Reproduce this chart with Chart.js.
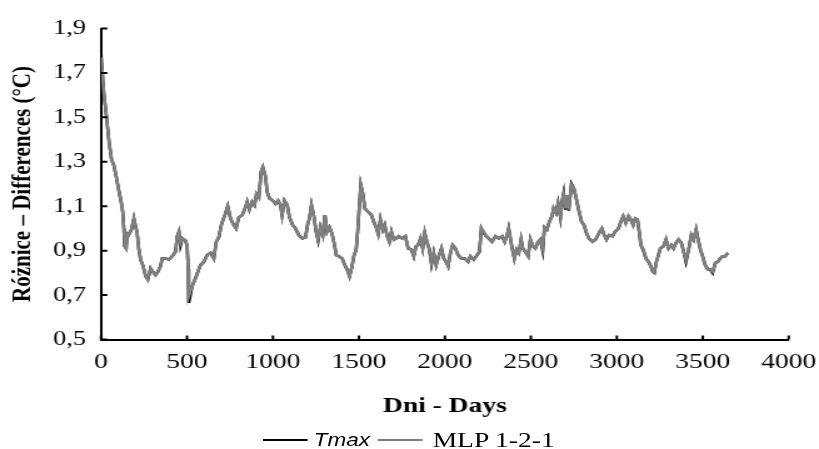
<!DOCTYPE html>
<html lang="pl">
<head>
    <meta charset="UTF-8">
    <title>Różnice – Differences</title>
    <script src="https://cdn.jsdelivr.net/npm/chart.js"></script>
    <style>
        html, body {
            margin: 0;
            padding: 0;
            background: #fff;
            overflow: hidden;
        }

        /* the original figure is stretched sideways, so draw it narrow and widen it */
        #stage {
            position: relative;
            width: 655px;
            height: 449px;
            transform: scaleX(1.2504);
            transform-origin: 0 0;
        }

        #chart {
            position: absolute;
            left: 0;
            top: 0;
        }

        .key-line {
            position: absolute;
            top: 439px;
            width: 36px;
            height: 2px;
        }

        .key-text {
            position: absolute;
            top: 428px;
            line-height: 24px;
            white-space: nowrap;
            color: #000;
        }
    </style>
</head>
<body>
    <div id="stage">
        <canvas id="chart" width="655" height="449"></canvas>
        <div class="key-line" style="left:210px; background:#000;"></div>
        <span class="key-text" style="left:251px; font-family:'Liberation Sans', Arial, sans-serif; font-style:italic; font-size:18px;">Tmax</span>
        <div class="key-line" style="left:302px; background:#808080;"></div>
        <span class="key-text" style="left:346px; font-family:'Liberation Serif', 'Times New Roman', serif; font-size:22px;">MLP 1-2-1</span>
    </div>

    <script>
        const days = [
            0, 16, 32, 45, 61, 74, 88, 102, 117, 126, 133, 137, 146, 152, 160, 177, 191, 201, 210, 220,
            230, 245, 259, 272, 288, 301, 317, 331, 346, 356, 375, 394, 414, 433, 443, 453, 462, 472, 491, 501,
            507, 510, 530, 549, 578, 598, 617, 637, 656, 670, 685, 701, 720, 737, 753, 772, 786, 801, 821, 840,
            850, 863, 879, 893, 904, 918, 931, 941, 956, 966, 980, 999, 1015, 1030, 1044, 1053, 1067, 1083, 1096, 1115,
            1131, 1150, 1170, 1189, 1202, 1212, 1224, 1237, 1251, 1263, 1276, 1290, 1302, 1315, 1329, 1344, 1358, 1368, 1383, 1402,
            1418, 1431, 1445, 1460, 1470, 1484, 1493, 1503, 1511, 1522, 1534, 1553, 1573, 1586, 1600, 1612, 1625, 1639, 1650, 1664,
            1677, 1689, 1703, 1717, 1731, 1751, 1770, 1786, 1805, 1819, 1832, 1844, 1858, 1871, 1883, 1897, 1910, 1922, 1935, 1949,
            1964, 1980, 1993, 2007, 2019, 2032, 2045, 2061, 2077, 2096, 2115, 2135, 2148, 2168, 2187, 2201, 2212, 2226, 2240, 2255,
            2274, 2294, 2313, 2333, 2348, 2362, 2371, 2381, 2391, 2404, 2416, 2430, 2443, 2453, 2468, 2484, 2497, 2511, 2526, 2542,
            2555, 2569, 2579, 2594, 2607, 2623, 2632, 2646, 2658, 2672, 2681, 2691, 2701, 2710, 2720, 2736, 2750, 2764, 2779, 2795,
            2809, 2823, 2838, 2858, 2877, 2897, 2913, 2927, 2940, 2955, 2975, 2990, 3010, 3023, 3037, 3052, 3068, 3081, 3095, 3107,
            3120, 3130, 3140, 3155, 3169, 3184, 3198, 3209, 3218, 3230, 3240, 3253, 3272, 3286, 3301, 3317, 3330, 3344, 3359, 3375,
            3389, 3402, 3418, 3433, 3447, 3461, 3473, 3486, 3499, 3514, 3530, 3543, 3557, 3573, 3588, 3601, 3615, 3630, 3646
        ];

        // MLP 1-2-1 (grey line)
        const mlpValues = [
            1.77, 1.61, 1.50, 1.40, 1.31, 1.285, 1.235, 1.175, 1.12, 1.075, 0.995, 0.92, 0.91, 0.975, 0.97, 0.995, 1.045, 1.01, 0.98, 0.905,
            0.86, 0.83, 0.785, 0.77, 0.82, 0.805, 0.79, 0.805, 0.83, 0.865, 0.865, 0.86, 0.875, 0.895, 0.965, 0.985, 0.935, 0.955, 0.945, 0.92,
            0.815, 0.695, 0.74, 0.775, 0.835, 0.85, 0.88, 0.89, 0.865, 0.94, 0.96, 1.02, 1.06, 1.10, 1.045, 1.015, 1.0, 1.05, 1.06, 1.095,
            1.12, 1.085, 1.12, 1.105, 1.155, 1.14, 1.255, 1.275, 1.235, 1.165, 1.135, 1.125, 1.11, 1.125, 1.105, 1.06, 1.125, 1.105, 1.05, 1.015,
            1.0, 0.97, 0.955, 0.96, 1.02, 1.045, 1.105, 1.06, 0.985, 0.95, 1.005, 0.97, 1.06, 0.985, 1.005, 0.975, 0.925, 0.88, 0.875, 0.865,
            0.835, 0.815, 0.785, 0.83, 0.875, 0.905, 0.99, 1.11, 1.195, 1.16, 1.09, 1.075, 1.06, 1.03, 1.005, 0.975, 1.04, 0.995, 1.015, 0.965,
            0.94, 0.985, 0.95, 0.955, 0.965, 0.955, 0.965, 0.91, 0.905, 0.875, 0.92, 0.925, 0.955, 0.91, 0.98, 0.935, 0.905, 0.845, 0.89, 0.835,
            0.875, 0.91, 0.865, 0.85, 0.83, 0.89, 0.925, 0.91, 0.88, 0.865, 0.865, 0.85, 0.875, 0.86, 0.88, 0.895, 1.0, 0.985, 0.965, 0.955,
            0.94, 0.965, 0.955, 0.965, 0.94, 0.97, 1.0, 0.955, 0.91, 0.865, 0.905, 0.89, 0.95, 0.91, 0.895, 0.875, 0.95, 0.92, 0.91, 0.94,
            0.95, 0.91, 1.005, 0.995, 1.03, 1.055, 1.09, 1.07, 1.11, 1.055, 1.12, 1.155, 1.09, 1.15, 1.085, 1.195, 1.18, 1.135, 1.085, 1.03,
            1.015, 0.98, 0.955, 0.94, 0.95, 0.98, 1.0, 0.97, 0.95, 0.97, 0.965, 0.985, 1.0, 1.03, 1.055, 1.025, 1.055, 1.04, 1.015, 1.045,
            1.04, 0.985, 0.925, 0.905, 0.865, 0.85, 0.83, 0.805, 0.8, 0.85, 0.875, 0.91, 0.92, 0.95, 0.91, 0.925, 0.91, 0.935, 0.95, 0.935,
            0.895, 0.86, 0.905, 0.97, 0.95, 0.995, 0.95, 0.905, 0.875, 0.835, 0.815, 0.815, 0.805, 0.845, 0.85, 0.865, 0.875, 0.875, 0.89
        ];

        // Tmax (black line, mostly hidden under the grey one)
        const tmaxValues = [
            1.78, 1.61, 1.50, 1.40, 1.31, 1.285, 1.235, 1.175, 1.12, 1.075, 0.995, 0.92, 0.91, 0.975, 0.97, 0.995, 1.045, 1.01, 0.98, 0.905,
            0.86, 0.83, 0.785, 0.77, 0.82, 0.805, 0.79, 0.805, 0.83, 0.865, 0.865, 0.86, 0.875, 0.895, 0.965, 0.985, 0.925, 0.955, 0.945, 0.92,
            0.815, 0.665, 0.74, 0.775, 0.835, 0.85, 0.88, 0.89, 0.865, 0.94, 0.96, 1.02, 1.06, 1.10, 1.045, 1.015, 1.0, 1.05, 1.06, 1.095,
            1.12, 1.085, 1.12, 1.105, 1.155, 1.14, 1.255, 1.275, 1.235, 1.165, 1.135, 1.125, 1.11, 1.125, 1.105, 1.06, 1.125, 1.105, 1.05, 1.015,
            1.0, 0.97, 0.955, 0.96, 1.02, 1.045, 1.105, 1.06, 0.985, 0.945, 1.005, 0.97, 1.06, 0.985, 1.005, 0.975, 0.925, 0.88, 0.875, 0.865,
            0.835, 0.815, 0.785, 0.83, 0.875, 0.905, 0.99, 1.11, 1.195, 1.16, 1.09, 1.075, 1.06, 1.03, 1.005, 0.975, 1.04, 0.995, 1.015, 0.965,
            0.94, 0.985, 0.95, 0.955, 0.965, 0.955, 0.965, 0.91, 0.905, 0.875, 0.92, 0.925, 0.955, 0.91, 0.98, 0.935, 0.905, 0.84, 0.89, 0.835,
            0.875, 0.91, 0.865, 0.85, 0.83, 0.89, 0.925, 0.91, 0.88, 0.865, 0.865, 0.85, 0.875, 0.86, 0.88, 0.895, 1.0, 0.98, 0.965, 0.955,
            0.94, 0.965, 0.955, 0.965, 0.94, 0.97, 1.0, 0.955, 0.91, 0.865, 0.905, 0.89, 0.95, 0.91, 0.895, 0.875, 0.95, 0.92, 0.91, 0.94,
            0.95, 0.9, 1.005, 0.995, 1.03, 1.055, 1.09, 1.07, 1.115, 1.05, 1.12, 1.16, 1.085, 1.15, 1.08, 1.2, 1.18, 1.135, 1.08, 1.03,
            1.015, 0.98, 0.955, 0.94, 0.95, 0.98, 1.0, 0.97, 0.95, 0.97, 0.965, 0.985, 1.0, 1.03, 1.055, 1.025, 1.055, 1.04, 1.015, 1.045,
            1.04, 0.985, 0.925, 0.9, 0.865, 0.85, 0.83, 0.805, 0.8, 0.85, 0.875, 0.91, 0.92, 0.95, 0.91, 0.925, 0.91, 0.935, 0.95, 0.935,
            0.895, 0.85, 0.905, 0.97, 0.95, 0.995, 0.95, 0.905, 0.875, 0.835, 0.815, 0.815, 0.8, 0.845, 0.85, 0.865, 0.875, 0.875, 0.89
        ];

        const xTickStep = 500;
        const yTickStep = 0.1;

        function toPoints(values) {
            return values.map((v, i) => ({ x: days[i], y: v }));
        }

        // tick marks point into the plot, as in the original
        const innerTicks = {
            id: 'innerTicks',
            afterDraw(chart) {
                const { ctx, chartArea, scales } = chart;
                ctx.save();
                ctx.strokeStyle = '#000';
                ctx.lineWidth = 2;
                ctx.beginPath();
                scales.y.ticks.forEach((t, i) => {
                    const py = scales.y.getPixelForTick(i);
                    ctx.moveTo(chartArea.left, py);
                    ctx.lineTo(chartArea.left + 5, py);
                });
                scales.x.ticks.forEach((t, i) => {
                    const px = scales.x.getPixelForTick(i);
                    ctx.moveTo(px, chartArea.bottom);
                    ctx.lineTo(px, chartArea.bottom - 4);
                });
                ctx.stroke();
                ctx.restore();
            }
        };

        Chart.defaults.font.family = "'Liberation Serif', 'Times New Roman', serif";
        Chart.defaults.color = '#000';

        new Chart(document.getElementById('chart'), {
            type: 'line',
            data: {
                datasets: [
                    {
                        label: 'Tmax',
                        data: toPoints(tmaxValues),
                        borderColor: '#000000',
                        borderWidth: 2.5,
                        pointRadius: 0,
                        tension: 0,
                        order: 1
                    },
                    {
                        label: 'MLP 1-2-1',
                        data: toPoints(mlpValues),
                        borderColor: '#808080',
                        borderWidth: 2.5,
                        pointRadius: 0,
                        tension: 0,
                        order: 0
                    }
                ]
            },
            options: {
                responsive: false,
                animation: false,
                layout: {
                    padding: { top: 28.5, right: 24.2, bottom: 29.5, left: 0 }
                },
                plugins: {
                    legend: { display: false },
                    tooltip: { enabled: false }
                },
                scales: {
                    x: {
                        type: 'linear',
                        min: 0,
                        max: 4000,
                        afterFit(scale) {
                            scale.height = 80;
                            // let the layout padding alone decide the right edge
                            scale.paddingLeft = 0;
                            scale.paddingRight = 0;
                        },
                        ticks: {
                            stepSize: xTickStep,
                            padding: 10,
                            font: { size: 22 },
                            color: '#000',
                            callback: (value) => String(value)
                        },
                        grid: { drawOnChartArea: false, drawTicks: false },
                        border: { display: true, color: '#000', width: 2 },
                        title: {
                            display: true,
                            text: 'Dni - Days',
                            font: { size: 22, weight: 'bold' },
                            color: '#000',
                            padding: { top: 0, bottom: 0 }
                        }
                    },
                    y: {
                        min: 0.5,
                        max: 1.9,
                        afterFit(scale) { scale.width = 80.8; },
                        ticks: {
                            stepSize: yTickStep,
                            padding: 12,
                            font: { size: 21 },
                            color: '#000',
                            // labels only every 0.2, with a decimal comma
                            callback: (value, index) => index % 2 === 0 ? value.toFixed(1).replace('.', ',') : ''
                        },
                        grid: { drawOnChartArea: false, drawTicks: false },
                        border: { display: true, color: '#000', width: 2 },
                        title: {
                            display: true,
                            text: 'Różnice – Differences (°C)',
                            font: { size: 21, weight: 'bold' },
                            color: '#000',
                            padding: { top: 6, bottom: 0 }
                        }
                    }
                }
            },
            plugins: [innerTicks]
        });
    </script>
</body>
</html>
